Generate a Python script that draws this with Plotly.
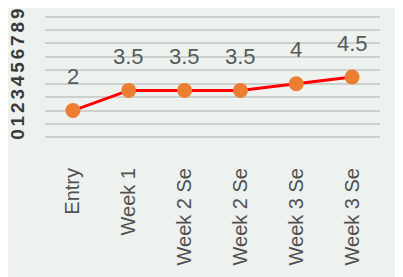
import plotly.graph_objects as go

categories = ["Entry", "Week 1", "Week 2 Se", "Week 2 Se", "Week 3 Se", "Week 3 Se"]
values = [2, 3.5, 3.5, 3.5, 4, 4.5]
value_labels = ["2", "3.5", "3.5", "3.5", "4", "4.5"]
y_ticks = list(range(0, 10))

xs = list(range(len(categories)))

fig = go.Figure()
fig.add_trace(go.Scatter(
    x=xs, y=values, mode="lines+markers",
    line=dict(color="#ff0000", width=3),
    marker=dict(color="#ed7d31", size=15),
    showlegend=False, hoverinfo="skip",
))
for x, y, t in zip(xs, values, value_labels):
    fig.add_annotation(x=x, y=y, text=t, showarrow=False, yshift=34,
                       font=dict(family="Arial, Liberation Sans", size=22, color="#595959"))

fig.update_layout(
    width=403, height=277,
    margin=dict(l=37, r=31, t=7, b=146),
    paper_bgcolor="#eef2ef", plot_bgcolor="#eef2ef",
)
fig.update_xaxes(
    tickmode="array", tickvals=xs, ticktext=categories,
    range=[-0.5, len(categories) - 0.5], automargin=False,
    tickangle=-90, showgrid=False, zeroline=False, showline=False,
    ticks="outside", ticklen=20, tickcolor="rgba(0,0,0,0)",
    tickfont=dict(family="Arial, Liberation Sans", size=20, color="#505050"),
)
fig.update_yaxes(
    range=[-0.12, 9.12], tickmode="array", tickvals=y_ticks,
    ticktext=["<b>%d</b>" % v for v in y_ticks], automargin=False,
    tickangle=-90, showgrid=True, gridcolor="#cdd1ce", gridwidth=2,
    zeroline=False, showline=False,
    ticks="outside", ticklen=12, tickcolor="rgba(0,0,0,0)",
    tickfont=dict(family="Arial, Liberation Sans", size=19, color="#3a3a3a"),
)

fig.write_html("out.html")
